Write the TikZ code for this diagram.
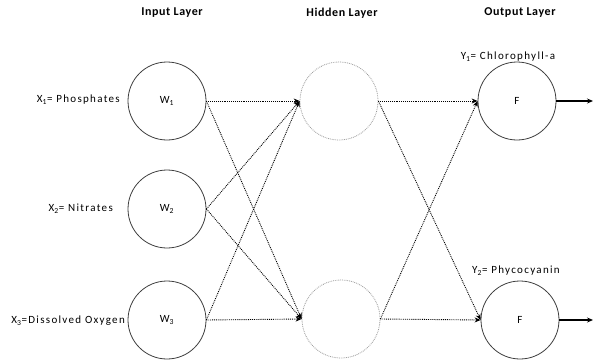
\documentclass[tikz,border=0pt]{standalone}
\usepackage{fontspec}
\setmainfont{Carlito}
\usetikzlibrary{arrows.meta}
\begin{document}
\begin{tikzpicture}[x=1pt,y=-1pt,
  neuron/.style={circle,draw=black!75,line width=0.8pt,minimum size=78pt,inner sep=0pt,font=\fontsize{11}{12}\selectfont\addfontfeatures{LetterSpace=8}},
  hidden/.style={circle,draw=black!40,densely dotted,line width=0.8pt,minimum size=78pt,inner sep=0pt},
  conn/.style={densely dotted,line width=0.9pt,-{Stealth[length=6pt,width=5pt]}},
  outarr/.style={line width=1.4pt,-{Stealth[length=6pt,width=5pt]}},
  head/.style={font=\bfseries\fontsize{12}{14}\selectfont\addfontfeatures{LetterSpace=5}},
  lab/.style={font=\fontsize{11}{13}\selectfont\addfontfeatures{LetterSpace=12},inner sep=0pt}]
\useasboundingbox (0,0) rectangle (594,362);
\fill[white] (0,0) rectangle (594,362);
\node[head] (hin) at (172,13) {Input Layer};
\node[head] (hhid) at (342,13) {Hidden Layer};
\node[head] (hout) at (520,13) {Output Layer};
\node[neuron] (w1) at (167,101) {W\textsubscript{1}};
\node[neuron] (w2) at (167,209) {W\textsubscript{2}};
\node[neuron] (w3) at (167,320) {W\textsubscript{3}};
\node[hidden] (h1) at (339,101) {};
\node[hidden] (h2) at (341,319) {};
\node[neuron] (o1) at (517,101) {F};
\node[neuron] (o2) at (520,320) {F};
\node[lab,anchor=east] (x1) at (120,100) {X\textsubscript{1}= Phosphates};
\node[lab,anchor=east] (x2) at (113,209) {X\textsubscript{2}= Nitrates};
\node[lab,anchor=east] (x3) at (125,321) {X\textsubscript{3}=Dissolved Oxygen};
\node[lab] (y1) at (508,57) {Y\textsubscript{1}= Chlorophyll-a};
\node[lab] (y2) at (516,271) {Y\textsubscript{2}= Phycocyanin};
\coordinate (e1) at (593,101);
\coordinate (e2) at (593,320);
\foreach \s in {w1,w2,w3}{
  \draw[conn] (\s.east) -- (h1.west);
  \draw[conn] (\s.east) -- (h2.west);
}
\foreach \s in {h1,h2}{
  \draw[conn] (\s.east) -- (o1.west);
  \draw[conn] (\s.east) -- (o2.west);
}
\draw[outarr] (o1.east) -- (e1);
\draw[outarr] (o2.east) -- (e2);
\end{tikzpicture}
\end{document}
